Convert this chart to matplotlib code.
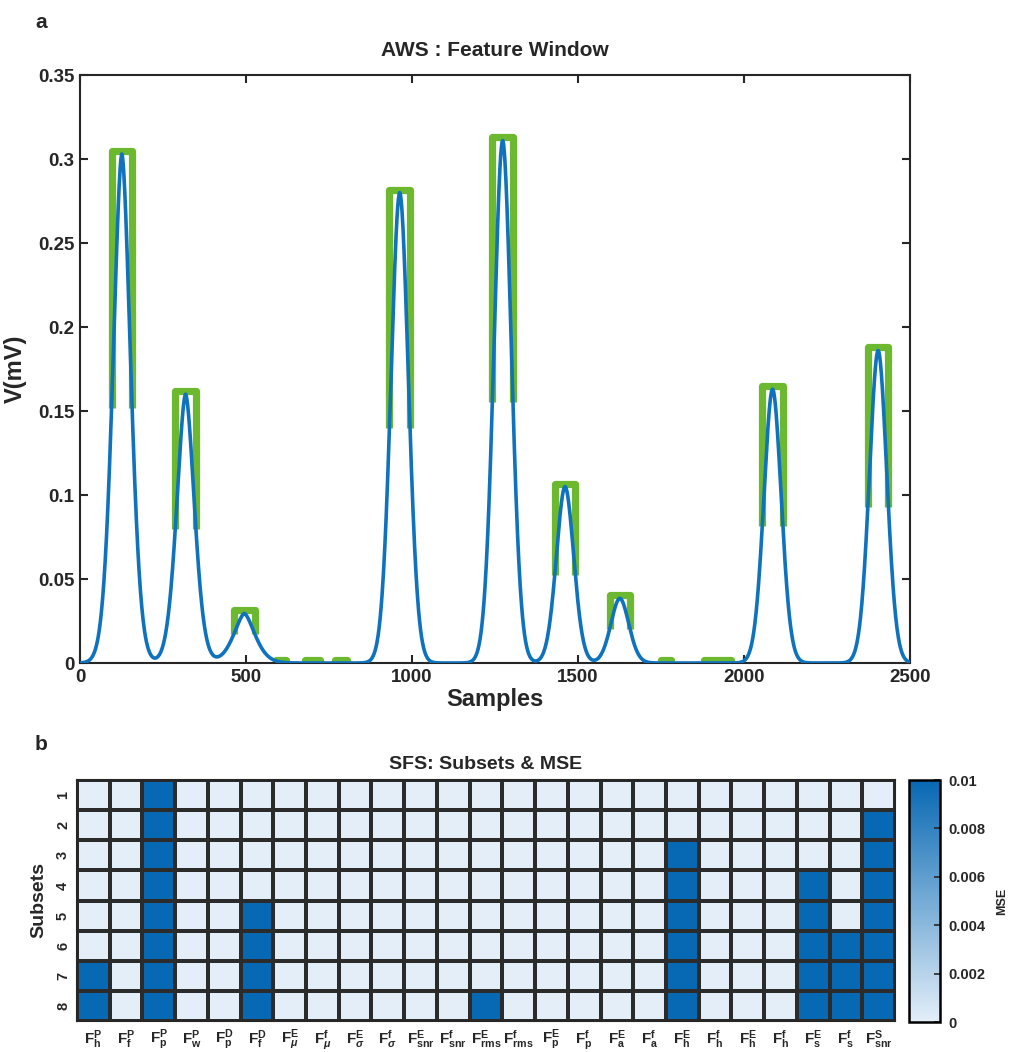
import numpy as np
import matplotlib
matplotlib.use('Agg')
import matplotlib.pyplot as plt
from matplotlib.colors import LinearSegmentedColormap

plt.rcParams['font.family'] = ['Liberation Sans', 'DejaVu Sans']
plt.rcParams['font.weight'] = 'bold'
plt.rcParams['mathtext.fontset'] = 'custom'
plt.rcParams['mathtext.rm'] = 'Liberation Sans:bold'
plt.rcParams['mathtext.bf'] = 'Liberation Sans:bold'
plt.rcParams['mathtext.it'] = 'Liberation Sans:italic'
plt.rcParams['mathtext.sf'] = 'Liberation Sans:bold'

# ---------------- Panel a data ----------------
n_samples = 2500
peak_centers = [126, 318, 495, 963, 1273, 1461, 1626, 2086, 2404]
peak_heights = [0.303, 0.160, 0.0295, 0.280, 0.311, 0.105, 0.0385, 0.163, 0.186]
peak_hwhm = [31, 31, 37, 31, 31, 31, 32, 31, 31]
peak_shape = [1.75, 1.75, 1.6, 1.9, 1.9, 1.9, 1.9, 1.9, 1.9]
window_half = 31
noise_win_start = [590, 678, 768, 1750, 1881]
noise_win_end = [621, 724, 803, 1781, 1961]

# ---------------- Panel b data ----------------
feature_labels = [
    r'$\mathrm{F}^{\mathrm{P}}_{\mathrm{h}}$', r'$\mathrm{F}^{\mathrm{P}}_{\mathrm{f}}$',
    r'$\mathrm{F}^{\mathrm{P}}_{\mathrm{p}}$', r'$\mathrm{F}^{\mathrm{P}}_{\mathrm{w}}$',
    r'$\mathrm{F}^{\mathrm{D}}_{\mathrm{p}}$', r'$\mathrm{F}^{\mathrm{D}}_{\mathrm{f}}$',
    r'$\mathrm{F}^{\mathrm{E}}_{\mu}$', r'$\mathrm{F}^{\mathrm{f}}_{\mu}$',
    r'$\mathrm{F}^{\mathrm{E}}_{\sigma}$', r'$\mathrm{F}^{\mathrm{f}}_{\sigma}$',
    r'$\mathrm{F}^{\mathrm{E}}_{\mathrm{snr}}$', r'$\mathrm{F}^{\mathrm{f}}_{\mathrm{snr}}$',
    r'$\mathrm{F}^{\mathrm{E}}_{\mathrm{rms}}$', r'$\mathrm{F}^{\mathrm{f}}_{\mathrm{rms}}$',
    r'$\mathrm{F}^{\mathrm{E}}_{\mathrm{p}}$', r'$\mathrm{F}^{\mathrm{f}}_{\mathrm{p}}$',
    r'$\mathrm{F}^{\mathrm{E}}_{\mathrm{a}}$', r'$\mathrm{F}^{\mathrm{f}}_{\mathrm{a}}$',
    r'$\mathrm{F}^{\mathrm{E}}_{\mathrm{h}}$', r'$\mathrm{F}^{\mathrm{f}}_{\mathrm{h}}$',
    r'$\mathrm{F}^{\mathrm{E}}_{\mathrm{h}}$', r'$\mathrm{F}^{\mathrm{f}}_{\mathrm{h}}$',
    r'$\mathrm{F}^{\mathrm{E}}_{\mathrm{s}}$', r'$\mathrm{F}^{\mathrm{f}}_{\mathrm{s}}$',
    r'$\mathrm{F}^{\mathrm{S}}_{\mathrm{snr}}$',
]
subset_labels = ['1', '2', '3', '4', '5', '6', '7', '8']
# selected feature columns (1-based) for each subset
subset_features = [
    [3],
    [3, 25],
    [3, 19, 25],
    [3, 19, 23, 25],
    [3, 6, 19, 23, 25],
    [3, 6, 19, 23, 24, 25],
    [1, 3, 6, 19, 23, 24, 25],
    [1, 3, 6, 13, 19, 23, 24, 25],
]
mse_selected = 0.01
mse_unselected = 0.0
cbar_ticks = [0, 0.002, 0.004, 0.006, 0.008, 0.01]
cbar_ticklabels = ['0', '0.002', '0.004', '0.006', '0.008', '0.01']

# ---------------- build signal ----------------
x = np.arange(n_samples + 1)
y = np.zeros_like(x, dtype=float)
for c, h, w, p in zip(peak_centers, peak_heights, peak_hwhm, peak_shape):
    y += h * np.exp(-np.log(2) * (np.abs(x - c) / w) ** p)

W, H = 1010, 1052
fig = plt.figure(figsize=(W / 100, H / 100), dpi=100)

blue = '#0F72BD'
green = '#6CB92F'
dark = '#262626'

ax = fig.add_axes([80 / W, 1 - 663 / H, 830 / W, 588 / H])
for c in peak_centers:
    xl, xr = c - window_half, c + window_half
    top = y[c] + 0.0018
    ax.plot([xl, xl, xr, xr], [y[xl], top, top, y[xr]], color=green, lw=5.2,
            solid_joinstyle='round', solid_capstyle='butt', zorder=2)
for s, e in zip(noise_win_start, noise_win_end):
    ax.plot([s, s, e, e], [0.0, 0.0016, 0.0016, 0.0], color=green, lw=5.2,
            solid_joinstyle='round', solid_capstyle='butt', zorder=2)
ax.plot(x, y, color=blue, lw=2.6, zorder=3)

ax.set_xlim(0, 2500)
ax.set_ylim(0, 0.35)
ax.set_xticks([0, 500, 1000, 1500, 2000, 2500])
ax.set_yticks([0, 0.05, 0.1, 0.15, 0.2, 0.25, 0.3, 0.35])
ax.set_yticklabels(['0', '0.05', '0.1', '0.15', '0.2', '0.25', '0.3', '0.35'])
ax.tick_params(direction='in', top=True, right=True, length=6, width=1.5,
               labelsize=13.5, colors=dark, pad=4)
for lab in ax.get_xticklabels() + ax.get_yticklabels():
    lab.set_fontweight('bold')
for sp in ax.spines.values():
    sp.set_linewidth(1.5)
    sp.set_color(dark)
ax.set_xlabel('Samples', fontsize=17, fontweight='bold', labelpad=2, color=dark)
ax.set_ylabel('V(mV)', fontsize=17, fontweight='bold', labelpad=8, color=dark)
ax.set_title('AWS : Feature Window', fontsize=15, fontweight='bold', pad=14, color=dark)

fig.text(35 / W, 1 - 22 / H, 'a', fontsize=15, fontweight='bold', va='center', color=dark)
fig.text(35 / W, 1 - 745 / H, 'b', fontsize=15, fontweight='bold', va='center', color=dark)

# ---------------- heatmap ----------------
n_rows, n_cols = len(subset_labels), len(feature_labels)
mse = np.full((n_rows, n_cols), mse_unselected)
for r, cols in enumerate(subset_features):
    for cidx in cols:
        mse[r, cidx - 1] = mse_selected

cmap = LinearSegmentedColormap.from_list('mse', ['#E3EEF8', '#0768B3'])
axh = fig.add_axes([77 / W, 1 - 1021 / H, 818 / W, 241 / H])
mesh = axh.pcolormesh(np.arange(n_cols + 1), np.arange(n_rows + 1), mse, cmap=cmap,
                      vmin=0, vmax=0.01, edgecolors='#2b2b2b', linewidth=1.5)
axh.set_xlim(0, n_cols)
axh.set_ylim(n_rows, 0)
axh.set_xticks(np.arange(n_cols) + 0.5)
axh.set_xticklabels(feature_labels, fontsize=11)
axh.set_yticks(np.arange(n_rows) + 0.5)
axh.set_yticklabels(subset_labels, fontsize=10.5, fontweight='bold', rotation=90, va='center')
axh.tick_params(length=0, pad=5, colors=dark)
for sp in axh.spines.values():
    sp.set_linewidth(1.5)
    sp.set_color(dark)
axh.set_ylabel('Subsets', fontsize=14, fontweight='bold', labelpad=6, color=dark)
axh.set_title('SFS: Subsets & MSE', fontsize=14, fontweight='bold', pad=8, color=dark)

cax = fig.add_axes([909 / W, 1 - 1022 / H, 31 / W, 242 / H])
cb = fig.colorbar(mesh, cax=cax, ticks=cbar_ticks)
cb.ax.set_yticklabels(cbar_ticklabels)
cb.ax.tick_params(direction='in', length=4, width=1.2, labelsize=10.5, colors=dark, pad=6)
for lab in cb.ax.get_yticklabels():
    lab.set_fontweight('bold')
cb.outline.set_linewidth(1.8)
cb.outline.set_edgecolor('black')
cb.set_label('MSE', fontsize=9, fontweight='bold', labelpad=8, color=dark)

fig.savefig('out.png', dpi=100)
